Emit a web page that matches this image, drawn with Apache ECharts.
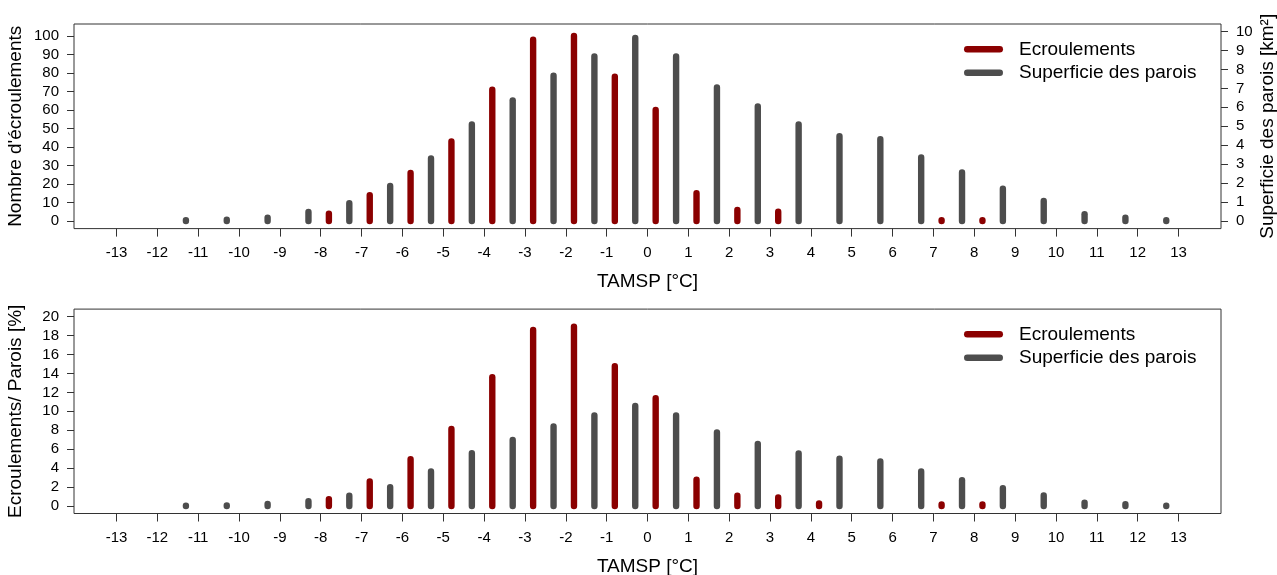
<!DOCTYPE html>
<html>
<head>
<meta charset="utf-8">
<title>Ecroulements et superficie des parois selon la TAMSP</title>
<script src="https://cdn.jsdelivr.net/npm/echarts@6.0.0/dist/echarts.min.js"></script>
<style>
  html, body { margin: 0; padding: 0; background: #fff; }
  #chart { width: 1277px; height: 575px; }
</style>
</head>
<body>
<div id="chart"></div>
<script>
// classes de TAMSP [°C] (une barre rouge et une grise par classe)
var classes = [-11, -10, -9, -8, -7, -6, -5, -4, -3, -2, -1, 0, 1, 2, 3, 4, 5, 6, 7, 8, 9, 10, 11, 12, 13];

// panneau du haut
var ecroulements = [null, null, null, 4, 14, 26, 43, 71, 98, 100, 78, 60, 15, 6, 5, null, null, null, 0.5, 0.5, null, null, null, null, null];
var superficie = [0.05, 0.07, 0.18, 0.48, 0.94, 1.85, 3.3, 5.1, 6.37, 7.67, 8.69, 9.66, 8.69, 7.05, 6.05, 5.1, 4.48, 4.32, 3.35, 2.56, 1.7, 1.06, 0.36, 0.18, 0.04];

// panneau du bas [%]
var ecroulementsPct = [null, null, null, 0.72, 2.59, 4.94, 8.14, 13.6, 18.6, 18.95, 14.76, 11.38, 2.76, 1.07, 0.9, 0.26, null, null, 0.15, 0.15, null, null, null, null, null];
var superficiePct = [0.03, 0.05, 0.22, 0.5, 1.08, 1.99, 3.64, 5.58, 6.98, 8.39, 9.55, 10.57, 9.55, 7.76, 6.56, 5.54, 4.98, 4.7, 3.64, 2.72, 1.88, 1.1, 0.33, 0.19, 0.03];

var xTicks = [-13, -12, -11, -10, -9, -8, -7, -6, -5, -4, -3, -2, -1, 0, 1, 2, 3, 4, 5, 6, 7, 8, 9, 10, 11, 12, 13];
var countTicks = [0, 10, 20, 30, 40, 50, 60, 70, 80, 90, 100];
var areaTicks = [0, 1, 2, 3, 4, 5, 6, 7, 8, 9, 10];
var pctTicks = [0, 2, 4, 6, 8, 10, 12, 14, 16, 18, 20];

var RED = '#8B0000';
var GREY = '#4D4D4D';
var FONT = '"Liberation Sans", Arial, sans-serif';

function pairs(vals, shift) {
  var out = [];
  classes.forEach(function (c, i) {
    if (vals[i] != null) out.push([c + shift, vals[i]]);
  });
  return out;
}

// trait vertical épais à bouts arrondis (comme type="h" de R)
function stick(params, api) {
  var x = api.value(0);
  var top = api.coord([x, api.value(1)]);
  var base = api.coord([x, 0]);
  var w = 6.4, r = w / 2;
  return {
    type: 'rect',
    shape: { x: top[0] - r, y: top[1] - r, width: w, height: base[1] - top[1] + w, r: r },
    style: { fill: api.visual('color') }
  };
}

function xAxis(i) {
  return {
    type: 'value', gridIndex: i, min: -14.04, max: 14.04,
    name: 'TAMSP [°C]', nameLocation: 'middle', nameGap: 44, nameMoveOverlap: false,
    nameTextStyle: { fontSize: 19, color: '#000' },
    axisLine: { show: false, onZero: false },
    axisTick: { show: true, length: 8, customValues: xTicks, lineStyle: { color: '#333' } },
    axisLabel: { customValues: xTicks, fontSize: 15, color: '#000', margin: 17 },
    splitLine: { show: false }
  };
}

function yAxis(grid, pos, min, max, ticks, name, gap, rot) {
  return {
    type: 'value', gridIndex: grid, position: pos, min: min, max: max,
    name: name, nameLocation: 'middle', nameGap: gap, nameRotate: rot, nameMoveOverlap: false,
    nameTextStyle: { fontSize: 19, color: '#000' },
    axisLine: { show: false, onZero: false },
    axisTick: { show: true, length: 7, customValues: ticks, lineStyle: { color: '#333' } },
    axisLabel: { customValues: ticks, fontSize: 15, color: '#000', margin: 15 },
    splitLine: { show: false }
  };
}

var pill = 'path://M3.25,0 H35.75 A3.25,3.25 0 0 1 35.75,6.5 H3.25 A3.25,3.25 0 0 1 3.25,0 Z';

function legend(top) {
  return {
    top: top, left: 964, orient: 'vertical', padding: 0, itemGap: 4.4,
    itemWidth: 39, itemHeight: 6.5, icon: pill, selectedMode: false,
    data: ['Ecroulements', 'Superficie des parois'],
    textStyle: { fontSize: 19, color: '#000', lineHeight: 19, padding: [0, 0, 0, 11] }
  };
}

var chart = echarts.init(document.getElementById('chart'));

var option = {
  animation: false,
  textStyle: { fontFamily: FONT },
  grid: [
    { left: 74, top: 24, width: 1147, height: 204.6, show: true, borderColor: '#333', borderWidth: 1,
      containLabel: false, outerBoundsMode: 'none' },
    { left: 74, top: 309.1, width: 1147, height: 204.4, show: true, borderColor: '#333', borderWidth: 1,
      containLabel: false, outerBoundsMode: 'none' }
  ],
  legend: [legend(39.8), legend(324.8)],
  xAxis: [xAxis(0), xAxis(1)],
  yAxis: [
    yAxis(0, 'left', -4.1, 106.5, countTicks, "Nombre d'écroulements", 49, 90),
    yAxis(0, 'right', -0.4, 10.4, areaTicks, 'Superficie des parois [km²]', 37, 90),
    yAxis(1, 'left', -0.8, 20.8, pctTicks, 'Ecroulements/ Parois [%]', 49, 90)
  ],
  series: [
    { name: 'Superficie des parois', type: 'custom', xAxisIndex: 0, yAxisIndex: 1,
      itemStyle: { color: GREY }, renderItem: stick, encode: { x: 0, y: 1 },
      data: pairs(superficie, -0.3) },
    { name: 'Ecroulements', type: 'custom', xAxisIndex: 0, yAxisIndex: 0,
      itemStyle: { color: RED }, renderItem: stick, encode: { x: 0, y: 1 },
      data: pairs(ecroulements, 0.2) },
    { name: 'Superficie des parois', type: 'custom', xAxisIndex: 1, yAxisIndex: 2,
      itemStyle: { color: GREY }, renderItem: stick, encode: { x: 0, y: 1 },
      data: pairs(superficiePct, -0.3) },
    { name: 'Ecroulements', type: 'custom', xAxisIndex: 1, yAxisIndex: 2,
      itemStyle: { color: RED }, renderItem: stick, encode: { x: 0, y: 1 },
      data: pairs(ecroulementsPct, 0.2) }
  ]
};

chart.setOption(option);
</script>
</body>
</html>
